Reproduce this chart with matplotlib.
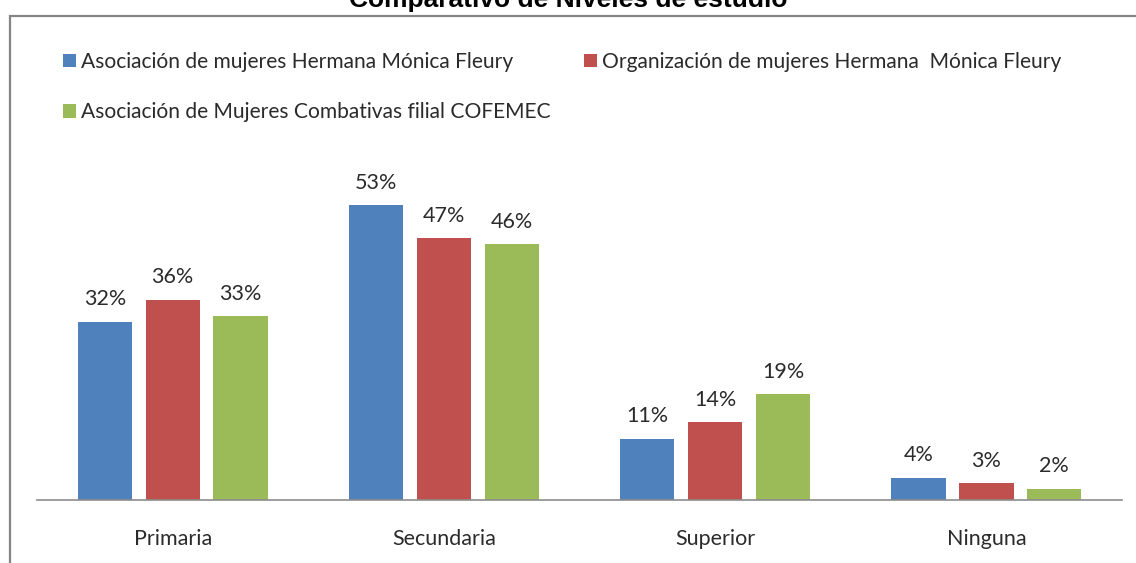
import matplotlib
matplotlib.use('Agg')
import matplotlib.pyplot as plt
from matplotlib.patches import Rectangle
import numpy as np

# data
categories = ['Primaria', 'Secundaria', 'Superior', 'Ninguna']
series_names = ['Asociación de mujeres Hermana Mónica Fleury',
                'Organización de mujeres Hermana  Mónica Fleury',
                'Asociación de Mujeres Combativas filial COFEMEC']
hermana = [32, 53, 11, 4]
organizacion = [36, 47, 14, 3]
cofemec = [33, 46, 19, 2]
title = 'Comparativo de Niveles de estudio'

colors = ['#4F81BD', '#C0504D', '#9BBB59']
text_color = '#2b2b2b'
W, H = 1136, 563

plt.rcParams['font.family'] = ['Lato', 'DejaVu Sans']

fig = plt.figure(figsize=(W / 100, H / 100), dpi=100)
ax = fig.add_axes([37 / W, 63 / H, 1085 / W, 360 / H])

x = np.arange(len(categories))
width = 0.2
step = 0.25
bars = []
for i, (vals, name) in enumerate(zip([hermana, organizacion, cofemec], series_names)):
    b = ax.bar(x + (i - 1) * step, vals, width, color=colors[i], label=name)
    ax.bar_label(b, labels=[f'{v}%' for v in vals], padding=9,
                 fontsize=15.5, color=text_color)
    bars.append(b)

ax.set_xlim(-0.5, len(categories) - 0.5)
ax.set_ylim(0, 64.7)
ax.set_xticks(x)
ax.set_xticklabels(categories, fontsize=15.5, color=text_color)
ax.tick_params(axis='x', length=0, pad=21)
ax.set_yticks([])
for s in ['top', 'left', 'right']:
    ax.spines[s].set_visible(False)
ax.spines['bottom'].set_color('#8c8c8c')
ax.spines['bottom'].set_linewidth(1.2)

# legend: row 1 = first two series, row 2 = third
handles = [bars[0], bars[2], bars[1]]
labels = [series_names[0], series_names[2], series_names[1]]
fig.legend(handles, labels, loc='upper left', bbox_to_anchor=(63 / W, 1 - 52 / H),
           ncol=2, frameon=False, fontsize=15.1, labelcolor=text_color,
           handlelength=0.6, handleheight=0.6, handletextpad=0.25,
           columnspacing=1.6, labelspacing=1.45, borderpad=0, borderaxespad=0)

# outer frame (only top and left edges visible)
frame = Rectangle((10 / W, -0.2), 1.5, 1.2 - 16 / H, transform=fig.transFigure,
                  facecolor='none', edgecolor='#858585', linewidth=1.6, clip_on=False)
fig.patches.append(frame)

fig.text(0.5, 1 - 7 / H, title, ha='center', va='baseline', fontsize=19,
         fontweight='bold', family='Liberation Sans', color='black')

fig.savefig('out.png', dpi=100, facecolor='white')
